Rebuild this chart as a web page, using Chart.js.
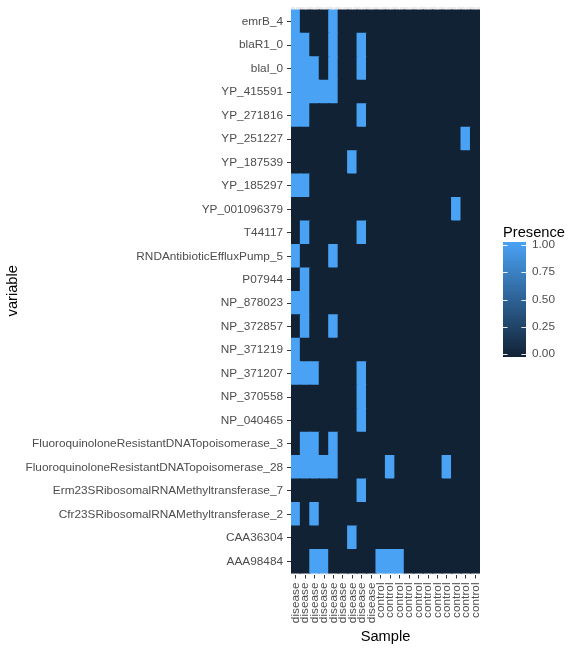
<!DOCTYPE html>
<html><head><meta charset="utf-8">
<script src="https://cdn.jsdelivr.net/npm/chart.js@4/dist/chart.umd.min.js"></script>
<style>html,body{margin:0;padding:0;background:#fff}canvas{display:block}</style>
</head><body>
<canvas id="c" width="580" height="651"></canvas>
<script>
const samples = ['disease','disease','disease','disease','disease','disease','disease','disease','disease',
  'control','control','control','control','control','control','control','control','control','control','control'];

// genes listed top to bottom
const genes = ['emrB_4','blaR1_0','blaI_0','YP_415591','YP_271816','YP_251227','YP_187539','YP_185297',
  'YP_001096379','T44117','RNDAntibioticEffluxPump_5','P07944','NP_878023','NP_372857','NP_371219',
  'NP_371207','NP_370558','NP_040465','FluoroquinoloneResistantDNATopoisomerase_3',
  'FluoroquinoloneResistantDNATopoisomerase_28','Erm23SRibosomalRNAMethyltransferase_7',
  'Cfr23SRibosomalRNAMethyltransferase_2','CAA36304','AAA98484'];

// presence per gene (same order as genes), one value per sample
const presence = [
  [1,0,0,0,1,0,0,0,0,0,0,0,0,0,0,0,0,0,0,0],
  [1,1,0,0,1,0,0,1,0,0,0,0,0,0,0,0,0,0,0,0],
  [1,1,1,0,1,0,0,1,0,0,0,0,0,0,0,0,0,0,0,0],
  [1,1,1,1,1,0,0,0,0,0,0,0,0,0,0,0,0,0,0,0],
  [1,1,0,0,0,0,0,1,0,0,0,0,0,0,0,0,0,0,0,0],
  [0,0,0,0,0,0,0,0,0,0,0,0,0,0,0,0,0,0,1,0],
  [0,0,0,0,0,0,1,0,0,0,0,0,0,0,0,0,0,0,0,0],
  [1,1,0,0,0,0,0,0,0,0,0,0,0,0,0,0,0,0,0,0],
  [0,0,0,0,0,0,0,0,0,0,0,0,0,0,0,0,0,1,0,0],
  [0,1,0,0,0,0,0,1,0,0,0,0,0,0,0,0,0,0,0,0],
  [1,0,0,0,1,0,0,0,0,0,0,0,0,0,0,0,0,0,0,0],
  [0,1,0,0,0,0,0,0,0,0,0,0,0,0,0,0,0,0,0,0],
  [1,1,0,0,0,0,0,0,0,0,0,0,0,0,0,0,0,0,0,0],
  [0,1,0,0,1,0,0,0,0,0,0,0,0,0,0,0,0,0,0,0],
  [1,0,0,0,0,0,0,0,0,0,0,0,0,0,0,0,0,0,0,0],
  [1,1,1,0,0,0,0,1,0,0,0,0,0,0,0,0,0,0,0,0],
  [0,0,0,0,0,0,0,1,0,0,0,0,0,0,0,0,0,0,0,0],
  [0,0,0,0,0,0,0,1,0,0,0,0,0,0,0,0,0,0,0,0],
  [0,1,1,0,1,0,0,0,0,0,0,0,0,0,0,0,0,0,0,0],
  [1,1,1,1,1,0,0,0,0,0,1,0,0,0,0,0,1,0,0,0],
  [0,0,0,0,0,0,0,1,0,0,0,0,0,0,0,0,0,0,0,0],
  [1,0,1,0,0,0,0,0,0,0,0,0,0,0,0,0,0,0,0,0],
  [0,0,0,0,0,0,1,0,0,0,0,0,0,0,0,0,0,0,0,0],
  [0,0,1,1,0,0,0,0,0,1,1,1,0,0,0,0,0,0,0,0]
];

const legendTicks = [0, 0.25, 0.5, 0.75, 1];
const lowColor = [17, 34, 53];
const highColor = [74, 162, 245];

function fillColor(v) {
  const c = lowColor.map((l, i) => Math.round(l + (highColor[i] - l) * v));
  return 'rgb(' + c.join(',') + ')';
}

const FONT = '"Liberation Sans", Arial, Helvetica, sans-serif';
const nRows = genes.length;

const datasets = genes.map((g, i) => ({
  label: g,
  data: samples.map(() => 1),
  backgroundColor: presence[i].map(fillColor),
  borderWidth: 0,
  inflateAmount: 0.6,
  barPercentage: 1,
  categoryPercentage: 1
})).reverse();

const panelBg = {
  id: 'panelBg',
  beforeDraw(chart) {
    const {ctx, chartArea: a} = chart;
    ctx.save();
    ctx.fillStyle = '#EBEBEB';
    ctx.fillRect(a.left, a.top, a.right - a.left, a.bottom - a.top);
    ctx.restore();
  }
};

const colorbar = {
  id: 'colorbar',
  afterDraw(chart) {
    const ctx = chart.ctx;
    const x = 503, y = 242, w = 23, h = 115, nbin = 20;
    ctx.save();
    ctx.fillStyle = '#000';
    ctx.font = '14.67px ' + FONT;
    ctx.textAlign = 'left';
    ctx.textBaseline = 'alphabetic';
    ctx.fillText('Presence', x, 236.5);
    const g = ctx.createLinearGradient(0, y + h, 0, y);
    g.addColorStop(0, fillColor(0));
    g.addColorStop(1, fillColor(1));
    ctx.fillStyle = g;
    ctx.fillRect(x, y, w, h);
    const pos = v => y + h - h / (2 * nbin) - v * (h - h / nbin);
    ctx.strokeStyle = 'rgba(255,255,255,0.9)';
    ctx.lineWidth = 1;
    ctx.font = '11.8px ' + FONT;
    ctx.fillStyle = '#4D4D4D';
    ctx.textBaseline = 'middle';
    legendTicks.forEach(v => {
      const py = Math.round(pos(v)) + 0.5;
      ctx.beginPath();
      ctx.moveTo(x, py); ctx.lineTo(x + w / 5, py);
      ctx.moveTo(x + w * 4 / 5, py); ctx.lineTo(x + w, py);
      ctx.stroke();
      ctx.fillText(v.toFixed(2), 532, pos(v));
    });
    ctx.restore();
  }
};

new Chart(document.getElementById('c'), {
  type: 'bar',
  data: { labels: samples, datasets },
  options: {
    responsive: false,
    animation: false,
    layout: { padding: { top: 7, right: 100, left: 0, bottom: 0 } },
    plugins: { legend: { display: false }, tooltip: { enabled: false } },
    scales: {
      x: {
        stacked: true,
        offset: true,
        grid: { offset: false, color: '#FFFFFF', lineWidth: 1, tickColor: '#333333', tickLength: 4 },
        border: { display: false },
        ticks: { minRotation: 90, maxRotation: 90, autoSkip: false, padding: 4, color: '#4D4D4D',
                 font: { family: FONT, size: 11.8 } },
        title: { display: true, text: 'Sample', color: '#000', font: { family: FONT, size: 14.67 },
                 padding: { top: 0, bottom: 5.5 } },
        afterFit(s) { s.height = 76.5; s.paddingLeft = 0; s.paddingRight = 0; }
      },
      y: {
        type: 'linear',
        stacked: true,
        min: -0.064,
        max: nRows + 0.128,
        afterBuildTicks(s) { s.ticks = genes.map((g, k) => ({ value: k + 0.5 })); },
        grid: { color: '#FFFFFF', lineWidth: 1, tickColor: '#333333', tickLength: 4 },
        border: { display: false },
        ticks: { autoSkip: false, padding: 4, color: '#4D4D4D', font: { family: FONT, size: 11.8 },
                 callback: (v, i) => genes[nRows - 1 - i] },
        title: { display: true, text: 'variable', color: '#000', font: { family: FONT, size: 14.67 },
                 padding: { top: 4, bottom: 0 } },
        afterFit(s) { s.width = 291; s.paddingTop = 0; s.paddingBottom = 0; }
      }
    }
  },
  plugins: [panelBg, colorbar]
});
</script>
</body></html>
